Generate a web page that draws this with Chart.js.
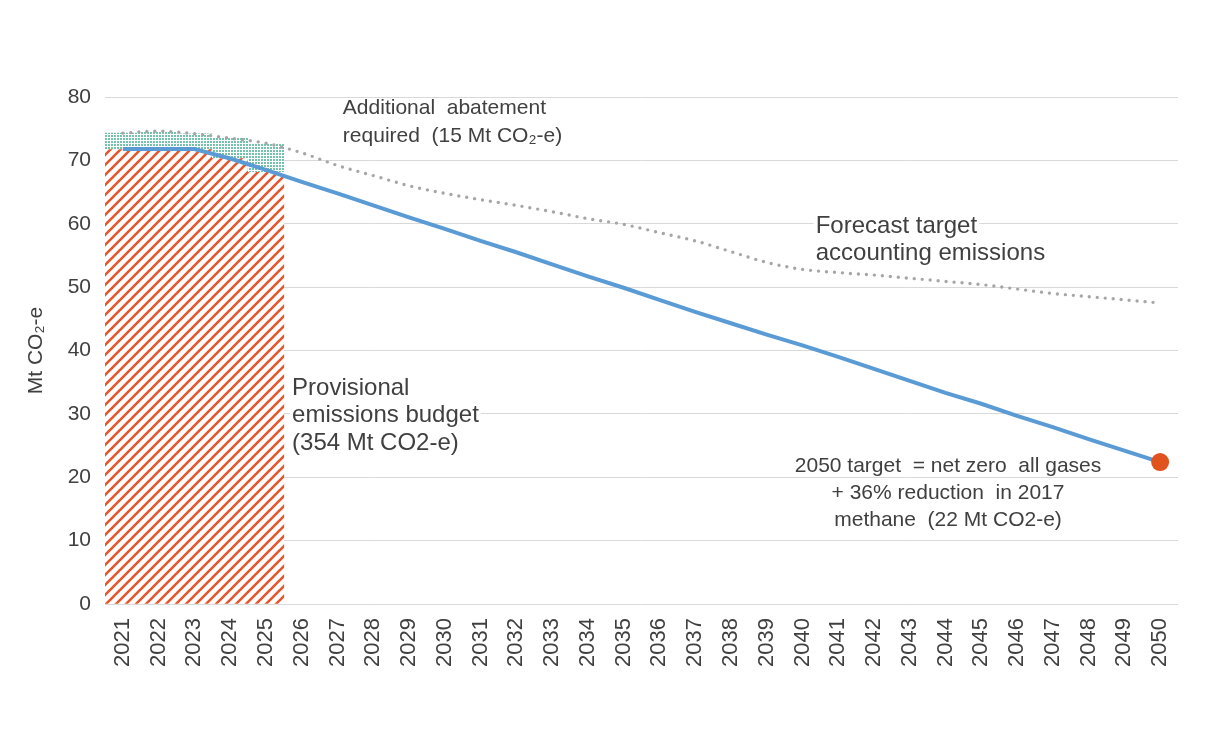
<!DOCTYPE html>
<html>
<head>
<meta charset="utf-8">
<script src="https://cdn.jsdelivr.net/npm/chart.js@4.4.1/dist/chart.umd.min.js"></script>
<style>
  html, body { margin: 0; padding: 0; background: #ffffff; }
  #wrap { width: 1212px; height: 738px; position: relative; }
</style>
</head>
<body>
<div id="wrap"><canvas id="emissionsChart"></canvas></div>
<script>
// years on the x axis
const years = ['2021', '2022', '2023', '2024', '2025', '2026', '2027', '2028', '2029', '2030',
  '2031', '2032', '2033', '2034', '2035', '2036', '2037', '2038', '2039', '2040',
  '2041', '2042', '2043', '2044', '2045', '2046', '2047', '2048', '2049', '2050'];

// provisional emissions budget (hatched bars, 2021-2025)
const budget = [71.8, 71.8, 71.8, 70.4, 68.2];

// target trajectory (blue line)
const targetPath = [71.8, 71.8, 71.8, 70.3, 68.5, 66.6, 64.8, 62.9, 61.0, 59.2,
  57.3, 55.5, 53.6, 51.7, 49.9, 48.0, 46.1, 44.3, 42.5, 40.8,
  39.0, 37.1, 35.2, 33.3, 31.6, 29.7, 27.9, 26.0, 24.2, 22.4];

// forecast target accounting emissions (grey dotted line)
const forecast = [74.3, 74.6, 74.2, 73.5, 72.7, 71.2, 69.2, 67.6, 66.0, 64.8,
  63.8, 62.9, 61.9, 60.8, 59.9, 58.6, 57.3, 55.6, 53.9, 52.8,
  52.3, 51.9, 51.4, 50.9, 50.4, 49.7, 49.0, 48.5, 48.0, 47.5];

// 2050 target point
const target2050 = 22.4;

const yTicks = [0, 10, 20, 30, 40, 50, 60, 70, 80];

const textColor = '#404040';
const fontFamily = 'Arial, "Liberation Sans", sans-serif';

// hatch pattern for the budget bars
function makeHatch() {
    const s = 10;
    const c = document.createElement('canvas');
    c.width = s; c.height = s;
    const g = c.getContext('2d');
    g.fillStyle = '#ffffff';
    g.fillRect(0, 0, s, s);
    g.strokeStyle = '#e4572e';
    g.lineWidth = 2.6;
    g.beginPath();
    g.moveTo(-2, s + 2); g.lineTo(s + 2, -2);
    g.moveTo(-2, 2); g.lineTo(2, -2);
    g.moveTo(s - 2, s + 2); g.lineTo(s + 2, s - 2);
    g.stroke();
    return g.createPattern(c, 'repeat');
}

// dotted pattern for the abatement gap
function makeDots() {
    const c = document.createElement('canvas');
    c.width = 3; c.height = 3;
    const g = c.getContext('2d');
    g.fillStyle = '#ffffff';
    g.fillRect(0, 0, 3, 3);
    g.fillStyle = '#74c2aa';
    g.fillRect(0, 0, 2, 2);
    return g.createPattern(c, 'repeat');
}

// text labels placed in data space (category index, value)
const notes = [
    { lines: ['Additional  abatement', 'required  (15 Mt CO\u2082-e)'], x: 6.15, y: [78.2, 73.8], size: 21, align: 'left', box: false },
    { lines: ['Forecast target', 'accounting emissions'], x: 19.37, y: [59.6, 55.4], size: 24, align: 'left', box: true },
    { lines: ['Provisional', 'emissions budget', '(354 Mt CO2-e)'], x: 4.73, y: [34.1, 29.7, 25.4], size: 24, align: 'left', box: true },
    { lines: ['2050 target  = net zero  all gases', '+ 36% reduction  in 2017', 'methane  (22 Mt CO2-e)'], x: 23.07, y: [21.8, 17.5, 13.2], size: 21, align: 'center', box: false }
];

const notesPlugin = {
    id: 'notes',
    afterDatasetsDraw(chart) {
        const ctx = chart.ctx;
        const xs = chart.scales.x, ys = chart.scales.y;
        ctx.save();
        ctx.textBaseline = 'middle';
        notes.forEach(n => {
            ctx.font = n.size + 'px ' + fontFamily;
            ctx.textAlign = n.align;
            const px = xs.getPixelForValue(n.x);
            n.lines.forEach((line, i) => {
                const py = ys.getPixelForValue(n.y[i]);
                if (n.box) {
                    const w = ctx.measureText(line).width;
                    const left = n.align === 'center' ? px - w / 2 : px;
                    ctx.fillStyle = '#ffffff';
                    ctx.fillRect(left - 2, py - n.size * 0.55, w + 4, n.size * 1.1);
                }
                ctx.fillStyle = textColor;
                ctx.fillText(line, px, py);
            });
        });
        ctx.restore();
    }
};

const el = document.getElementById('emissionsChart');
const hatch = makeHatch();
const dots = makeDots();

new Chart(el, {
    type: 'bar',
    data: {
        labels: years,
        datasets: [
            {
                type: 'line',
                label: '2050 target',
                data: years.map((y, i) => i === years.length - 1 ? target2050 : null),
                showLine: false,
                pointRadius: 9,
                pointBackgroundColor: '#e0531f',
                pointBorderWidth: 0,
                order: 0
            },
            {
                type: 'line',
                label: 'Target path',
                data: targetPath,
                borderColor: '#5b9bd5',
                borderWidth: 4,
                pointRadius: 0,
                tension: 0,
                order: 1
            },
            {
                type: 'line',
                label: 'Forecast target accounting emissions',
                data: forecast,
                borderColor: '#a6a6a6',
                borderWidth: 3.4,
                borderDash: [0, 8],
                borderCapStyle: 'round',
                pointRadius: 0,
                tension: 0.35,
                cubicInterpolationMode: 'monotone',
                order: 2
            },
            {
                label: 'Additional abatement',
                data: budget.map((b, i) => [b, forecast[i]]),
                backgroundColor: dots,
                borderWidth: 0,
                barPercentage: 1,
                categoryPercentage: 1,
                grouped: false,
                order: 3
            },
            {
                label: 'Provisional emissions budget',
                data: budget,
                backgroundColor: hatch,
                borderWidth: 0,
                barPercentage: 1,
                categoryPercentage: 1,
                grouped: false,
                order: 4
            }
        ]
    },
    options: {
        responsive: true,
        maintainAspectRatio: false,
        animation: false,
        layout: { padding: { top: 97, right: 34, bottom: 0, left: 0 } },
        plugins: {
            legend: { display: false },
            tooltip: { enabled: false }
        },
        scales: {
            x: {
                grid: { display: false },
                border: { display: false },
                ticks: {
                    color: textColor,
                    font: { size: 22, family: fontFamily },
                    minRotation: 90,
                    maxRotation: 90,
                    autoSkip: false,
                    padding: 6
                },
                afterFit(scale) { scale.height = 134; }
            },
            y: {
                min: 0,
                max: 80,
                grid: { color: '#d9d9d9', lineWidth: 1, drawTicks: false },
                border: { display: false },
                afterBuildTicks(scale) { scale.ticks = yTicks.map(v => ({ value: v })); },
                ticks: {
                    color: textColor,
                    font: { size: 21, family: fontFamily },
                    padding: 14
                },
                title: {
                    display: true,
                    text: 'Mt CO\u2082-e',
                    color: textColor,
                    font: { size: 21, family: fontFamily },
                    padding: { top: 24, bottom: 0 }
                },
                afterFit(scale) { scale.width = 105; }
            }
        }
    },
    plugins: [notesPlugin]
});
</script>
</body>
</html>
